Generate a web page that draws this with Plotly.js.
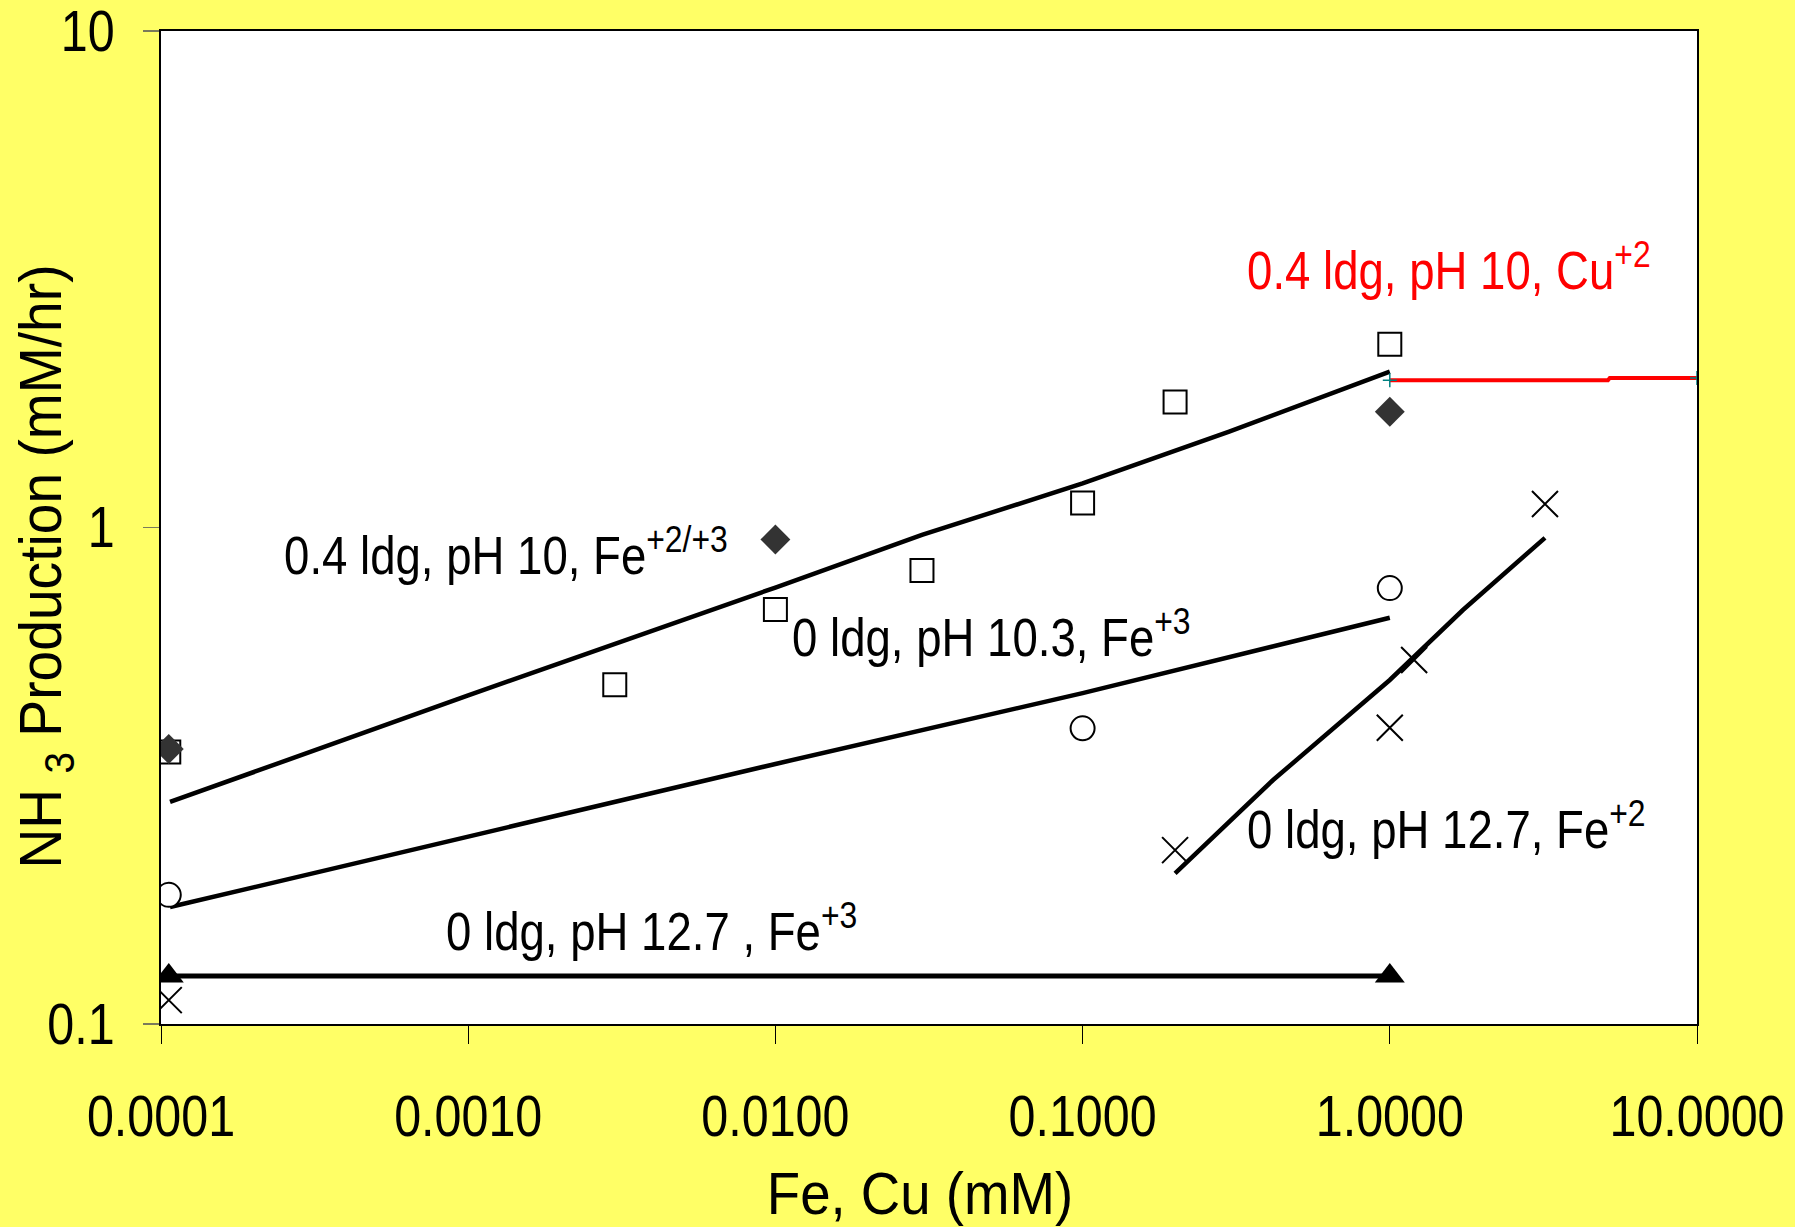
<!DOCTYPE html>
<html>
<head>
<meta charset="utf-8">
<script src="https://cdn.plot.ly/plotly-3.0.1.min.js"></script>
<style>
html,body{margin:0;padding:0;background:#FFFF66;}
#chart{width:1795px;height:1227px;}
</style>
</head>
<body>
<div id="chart"></div>
<script>
// Fe 0.4 ldg, pH 10 — open squares
var sqX = [0.000106, 0.003, 0.01, 0.03, 0.1, 0.2, 1.0];
var sqY = [0.353, 0.482, 0.684, 0.819, 1.12, 1.79, 2.34];
// Fe 0.4 ldg, pH 10 — filled diamonds
var dmX = [0.000106, 0.01, 1.0];
var dmY = [0.358, 0.946, 1.71];
// fitted trend, Fe+2/+3
var fitFeX = [0.000107, 0.001, 0.01, 0.03, 0.1, 0.3, 1.0];
var fitFeY = [0.28, 0.459, 0.757, 0.966, 1.227, 1.56, 2.06];
// 0 ldg, pH 10.3, Fe+3 — open circles
var ciX = [0.000106, 0.1, 1.0];
var ciY = [0.182, 0.394, 0.755];
var fitCiX = [0.000107, 0.001, 0.01, 0.1, 0.3, 1.0];
var fitCiY = [0.172, 0.238, 0.334, 0.464, 0.548, 0.658];
// 0 ldg, pH 12.7, Fe+2 — x markers
var xmX = [0.000106, 0.2, 1.0, 1.2, 3.2];
var xmY = [0.1117, 0.224, 0.395, 0.541, 1.115];
var fitXmX = [0.2, 0.417, 1.0, 1.73, 3.2];
var fitXmY = [0.201, 0.31, 0.493, 0.682, 0.953];
// 0 ldg, pH 12.7, Fe+3 — triangles
var trX = [0.000106, 1.0];
var trY = [0.125, 0.125];
var lnTrX = [0.000107, 1.0];
var lnTrY = [0.125, 0.125];
// 0.4 ldg, pH 10, Cu+2 — red line
var cuX = [1.0, 5.13, 5.2, 10.0];
var cuY = [1.98, 1.98, 2.0, 2.0];
var cuEndX = [1.0, 10.0];
var cuEndY = [1.98, 2.0];

var xTickVals = [0.0001, 0.001, 0.01, 0.1, 1, 10];
var xTickText = ["0.0001", "0.0010", "0.0100", "0.1000", "1.0000", "10.0000"];
var yTickVals = [0.1, 1, 10];
var yTickText = ["0.1", "1", "10"];

var FONT = '"Liberation Sans", Arial, sans-serif';

var traces = [
  {x: fitFeX, y: fitFeY, mode: 'lines', line: {color: '#000', width: 4.5}},
  {x: fitCiX, y: fitCiY, mode: 'lines', line: {color: '#000', width: 4.5}},
  {x: fitXmX, y: fitXmY, mode: 'lines', line: {color: '#000', width: 4.5}},
  {x: lnTrX, y: lnTrY, mode: 'lines', line: {color: '#000', width: 5}},
  {x: cuX, y: cuY, mode: 'lines', line: {color: '#FF0000', width: 4}},
  {x: cuEndX, y: cuEndY, mode: 'markers', marker: {symbol: 'cross-thin', size: 10, color: '#008080', line: {color: '#008080', width: 1.5}}},
  {x: sqX, y: sqY, mode: 'markers', marker: {symbol: 'square', size: 23, color: '#fff', line: {color: '#000', width: 2}}},
  {x: dmX, y: dmY, mode: 'markers', marker: {symbol: 'diamond', size: 23, color: '#333333', line: {width: 0}}},
  {x: ciX, y: ciY, mode: 'markers', marker: {symbol: 'circle', size: 24, color: '#fff', line: {color: '#000', width: 2}}},
  {x: xmX, y: xmY, mode: 'markers', marker: {symbol: 'x-thin', size: 26, color: '#000', line: {color: '#000', width: 2}}},
  {x: trX, y: trY, mode: 'markers', marker: {symbol: 'triangle-up', size: 26, color: '#000', line: {width: 0}}}
];

var annFont = {family: FONT, size: 53, color: '#000'};
var layout = {
  width: 1795, height: 1227,
  paper_bgcolor: '#FFFF66',
  plot_bgcolor: '#FFFFFF',
  showlegend: false,
  hovermode: false,
  font: {family: FONT, color: '#000'},
  margin: {l: 161, r: 98, t: 31, b: 203, pad: 0},
  xaxis: {
    type: 'log', range: [-4, 1], automargin: false,
    tickvals: xTickVals, ticktext: xTickText,
    ticks: 'outside', ticklen: 18, tickwidth: 1, tickcolor: '#000',
    ticklabelstandoff: 24, ticklabeloverflow: 'allow',
    tickfont: {family: FONT, size: 57, color: '#000'},
    showgrid: false, zeroline: false,
    showline: true, linecolor: '#000', linewidth: 2, mirror: true,
    title: {text: 'Fe, Cu (mM)', font: {family: FONT, size: 60, color: '#000'}, standoff: 40}
  },
  yaxis: {
    type: 'log', range: [-1, 1], automargin: false,
    tickvals: yTickVals, ticktext: yTickText,
    ticks: 'outside', ticklen: 16, tickwidth: 1.5, tickcolor: '#7a7a5a',
    ticklabelstandoff: 17, ticklabeloverflow: 'allow',
    tickfont: {family: FONT, size: 57, color: '#000'},
    showgrid: false, zeroline: false,
    showline: true, linecolor: '#000', linewidth: 2, mirror: true,
    title: {text: 'NH <sub>3</sub> Production (mM/hr)', font: {family: FONT, size: 60, color: '#000'}, standoff: 0}
  },
  annotations: [
    {xref: 'paper', yref: 'paper', x: 0.0788, y: 0.476, xanchor: 'left', yanchor: 'middle', showarrow: false,
     text: '0.4 ldg, pH 10, Fe<sup>+2/+3</sup>', font: annFont},
    {xref: 'paper', yref: 'paper', x: 0.4095, y: 0.3935, xanchor: 'left', yanchor: 'middle', showarrow: false,
     text: '0 ldg, pH 10.3, Fe<sup>+3</sup>', font: annFont},
    {xref: 'paper', yref: 'paper', x: 0.706, y: 0.1995, xanchor: 'left', yanchor: 'middle', showarrow: false,
     text: '0 ldg, pH 12.7, Fe<sup>+2</sup>', font: annFont},
    {xref: 'paper', yref: 'paper', x: 0.1842, y: 0.0976, xanchor: 'left', yanchor: 'middle', showarrow: false,
     text: '0 ldg, pH 12.7 , Fe<sup>+3</sup>', font: annFont},
    {xref: 'paper', yref: 'paper', x: 0.706, y: 0.763, xanchor: 'left', yanchor: 'middle', showarrow: false,
     text: '0.4 ldg, pH 10, Cu<sup>+2</sup>', font: {family: FONT, size: 53, color: '#FF0000'}}
  ]
};

// Narrow the glyphs horizontally (the reference uses a condensed face)
function condense(gd, selector, s, mode, dx, dy) {
  var els = gd.querySelectorAll(selector);
  els.forEach(function (el) {
    var bb = el.getBBox();
    var ax = mode === 'left' ? bb.x : (mode === 'right' ? bb.x + bb.width : bb.x + bb.width / 2);
    var t = el.getAttribute('transform') || '';
    el.setAttribute('transform', t + ' translate(' + (dx || 0) + ',' + (dy || 0) + ') translate(' + ax + ',0) scale(' + s + ',1) translate(' + (-ax) + ',0)');
  });
}

Plotly.newPlot('chart', traces, layout, {displayModeBar: false, staticPlot: true}).then(function (gd) {
  condense(gd, 'g.xtick text', 0.85, 'center');
  condense(gd, 'g.ytick text', 0.85, 'right');
  condense(gd, 'text.xtitle', 0.91, 'center', -9, 0);
  condense(gd, 'text.ytitle', 0.92, 'center', -39, 7);
  condense(gd, 'g.annotation text', 0.86, 'left');
});
</script>
</body>
</html>
